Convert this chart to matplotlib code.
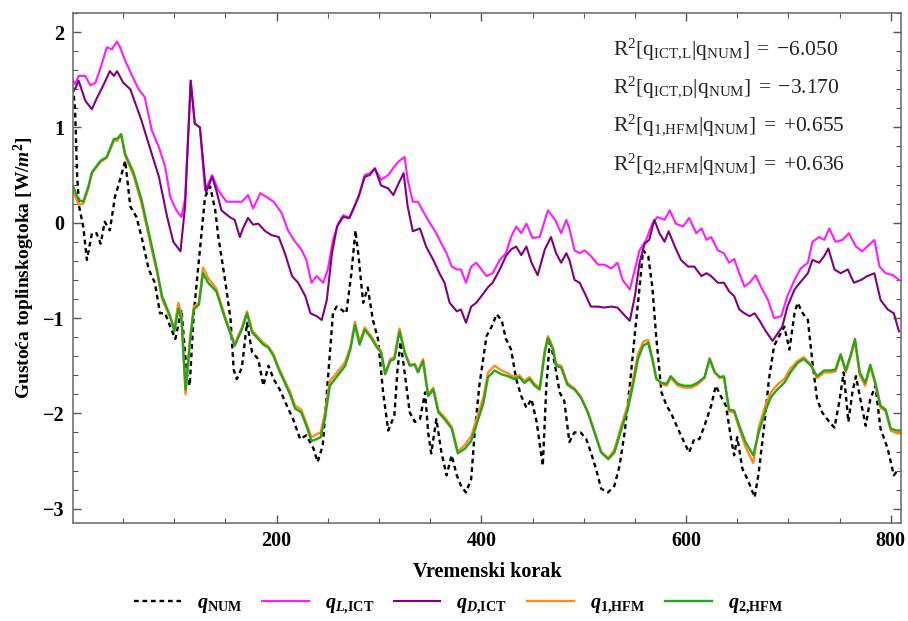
import matplotlib
matplotlib.use('Agg')
import matplotlib.pyplot as plt
from matplotlib.ticker import MultipleLocator, FixedLocator

plt.rcParams['font.family'] = ['Liberation Serif', 'DejaVu Serif']
plt.rcParams['mathtext.fontset'] = 'custom'
plt.rcParams['mathtext.rm'] = 'Liberation Serif'
plt.rcParams['mathtext.it'] = 'Liberation Serif:italic'
plt.rcParams['mathtext.bf'] = 'Liberation Serif:bold'
plt.rcParams['mathtext.bfit'] = 'Liberation Serif:italic:bold'
plt.rcParams['axes.unicode_minus'] = True

# (time step, heat flux) pairs
q_num = [(1, 1.42), (3, 1.20), (5, 0.50), (7, 0.17), (11, -0.04), (14.6, -0.39), (19.5, -0.11),
         (24, -0.11), (28, -0.22), (32, 0.01), (37, -0.08), (42, 0.27), (47, 0.45), (52, 0.65),
         (57, 0.17), (63, 0.06), (68, -0.15), (75, -0.49), (81, -0.63), (86, -0.95), (91, -0.95),
         (96, -1.09), (101, -1.22), (107, -0.91), (112, -1.57), (115, -1.71), (119, -0.95),
         (124, -0.39), (130, 0.27), (135, 0.38), (140, 0.13), (143, -0.15), (150, -0.63),
         (155, -1.02), (158, -1.54), (161, -1.64), (166, -1.52), (171, -1.05), (176, -1.36),
         (182, -1.43), (187, -1.71), (192, -1.50), (197, -1.64), (203, -1.75), (210, -1.92),
         (216, -2.06), (223, -2.27), (229, -2.23), (236, -2.37), (240, -2.51), (245, -2.34),
         (250, -1.64), (255, -0.95), (258.5, -0.88), (263, -0.91), (268, -0.95), (273, -0.53),
         (277, -0.08), (280, -0.35), (284.5, -0.84), (289, -0.68), (294, -1.02), (299, -1.22),
         (304, -1.78), (309, -2.18), (315, -2.02), (318, -1.55), (321, -1.25), (325, -1.57),
         (330, -1.99), (335, -2.09), (340, -2.06), (345, -1.78), (348, -2.20), (351, -2.42),
         (356, -2.06), (361, -2.41), (366, -2.65), (371, -2.44), (376, -2.65), (380.5, -2.77),
         (385, -2.83), (390, -2.69), (393.5, -2.20), (398, -1.71), (405, -1.19), (410, -1.09),
         (415, -0.96), (420, -1.03), (424, -1.22), (429, -1.33), (434, -1.64), (439, -1.82),
         (444, -1.94), (449, -1.85), (454, -2.09), (460, -2.55), (463.5, -1.71), (467, -1.22),
         (472, -1.50), (476.5, -1.78), (481, -1.87), (486, -2.30), (491, -2.20), (497, -2.20),
         (502.5, -2.27), (507, -2.41), (512, -2.58), (517, -2.79), (523.6, -2.83), (530, -2.76),
         (535, -2.55), (540, -2.20), (545, -1.71), (550, -1.16), (554, -0.74), (558, -0.29),
         (563, -0.35), (567, -0.67), (571, -1.22), (576, -1.78), (581, -1.92), (585, -1.99),
         (592, -2.16), (598, -2.30), (603, -2.41), (608, -2.27), (613, -2.27), (618, -2.13),
         (624.5, -1.92), (629, -1.71), (634, -1.82), (639, -1.92), (644, -2.27), (647, -2.44),
         (650, -2.25), (655, -2.58), (660, -2.69), (667, -2.88), (671, -2.62), (676, -2.16),
         (681, -1.64), (686, -1.29), (691, -1.19), (696, -1.09), (701, -1.33), (706, -0.95),
         (709, -0.84), (714, -0.95), (719, -1.02), (723.5, -1.47), (728, -1.85), (733, -1.99),
         (740, -2.09), (745, -2.15), (749.5, -1.89), (754, -1.57), (758.6, -2.09), (762.5, -1.78),
         (766, -1.61), (771, -1.89), (775.5, -2.13), (780, -1.85), (785, -1.71), (790, -2.16),
         (797, -2.37), (803, -2.65), (808, -2.58)]

q_l_ict = [(1, 1.49), (3, 1.455), (6.5, 1.54), (13, 1.54), (18, 1.44), (23, 1.47), (29, 1.66),
           (34, 1.84), (39, 1.82), (44, 1.90), (47, 1.84), (52, 1.70), (58, 1.56), (65, 1.40),
           (71, 1.32), (78, 0.97), (85, 0.79), (91, 0.59), (96, 0.27), (102, 0.13), (107, 0.06),
           (110.5, 0.25), (116, 1.49), (120, 1.04), (125, 1.00), (130, 0.34), (137, 0.50),
           (143, 0.34), (151, 0.22), (159, 0.22), (166, 0.22), (172, 0.29), (177, 0.15),
           (184, 0.31), (190, 0.27), (197, 0.22), (205, 0.10), (211, -0.08), (218, -0.20),
           (224, -0.28), (229, -0.39), (234, -0.63), (239, -0.56), (245.5, -0.63), (250, -0.49),
           (255, -0.18), (260, -0.01), (265, 0.08), (271, 0.05), (276, 0.17), (281, 0.31),
           (286, 0.50), (291, 0.52), (296, 0.57), (302, 0.45), (309, 0.50), (315, 0.59),
           (320, 0.65), (325, 0.69), (328, 0.45), (333, 0.22), (338, 0.22), (343, 0.12),
           (350, -0.01), (356, -0.11), (361, -0.22), (366, -0.32), (371, -0.46), (376, -0.49),
           (380, -0.49), (385, -0.63), (390, -0.46), (395, -0.42), (400, -0.49), (405, -0.56),
           (411, -0.53), (418, -0.39), (424, -0.32), (429, -0.15), (434, -0.04), (439, -0.11),
           (444, -0.01), (450, -0.16), (457, -0.15), (465, 0.13), (472, 0.03), (478, -0.11),
           (483, 0.03), (486, -0.06), (491, -0.29), (496, -0.32), (501, -0.29), (507, -0.35),
           (514, -0.44), (520, -0.44), (527, -0.48), (533, -0.42), (538, -0.60), (545, -0.70),
           (550, -0.49), (554.5, -0.29), (561, -0.18), (567, -0.01), (572, 0.06), (579, 0.03),
           (584, 0.13), (590, -0.01), (597, -0.04), (603, 0.05), (610, -0.11), (615, -0.06),
           (620, -0.18), (624.5, -0.15), (631, -0.29), (637, -0.32), (642, -0.42), (647, -0.38),
           (652, -0.53), (657, -0.67), (662, -0.63), (668, -0.55), (673, -0.67), (680, -0.81),
           (686, -1.00), (693, -0.98), (699, -0.77), (706, -0.60), (712, -0.48), (719, -0.42),
           (723.5, -0.20), (730, -0.15), (735, -0.18), (740, -0.06), (746, -0.20), (753, -0.18),
           (759, -0.11), (766, -0.25), (772, -0.30), (779, -0.23), (784, -0.18), (789, -0.46),
           (795, -0.53), (802, -0.55), (808, -0.60)]

q_d_ict = [(1, 1.40), (3, 1.40), (6.5, 1.49), (13, 1.28), (19.5, 1.19), (24, 1.30), (31, 1.45),
           (37, 1.59), (41, 1.54), (44, 1.59), (50, 1.47), (57, 1.40), (62, 1.25), (68, 1.07),
           (76, 0.79), (85, 0.48), (93, 0.06), (99, -0.20), (106, -0.30), (110.5, 0.17),
           (116, 1.49), (120, 1.04), (125, 1.00), (131, 0.32), (137, 0.48), (141, 0.34),
           (146, 0.13), (154, 0.06), (159, 0.03), (164, -0.15), (167, -0.06), (172, 0.05),
           (177, -0.02), (182, -0.01), (189, -0.09), (195, -0.13), (202, -0.15), (208, -0.32),
           (215, -0.56), (221, -0.63), (228, -0.77), (233, -0.95), (239, -0.98), (244, -1.02),
           (249, -0.81), (254, -0.32), (259, -0.04), (265, 0.06), (271, 0.05), (280, 0.27),
           (286, 0.48), (291, 0.50), (296, 0.57), (302, 0.39), (309, 0.36), (314, 0.29),
           (319, 0.41), (324, 0.52), (328, 0.17), (333, -0.09), (340, -0.06), (346, -0.25),
           (353, -0.39), (359, -0.53), (364, -0.63), (369, -0.84), (376, -0.93), (380, -0.91),
           (385, -1.05), (390, -0.88), (395, -0.84), (400, -0.77), (407, -0.67), (411, -0.63),
           (418, -0.49), (424, -0.35), (429, -0.28), (434, -0.25), (439, -0.34), (444, -0.25),
           (449, -0.42), (455, -0.55), (462, -0.28), (468, -0.15), (473, -0.32), (478, -0.42),
           (483, -0.32), (486, -0.39), (491, -0.60), (496, -0.63), (501, -0.74), (507, -0.88),
           (514, -0.88), (520, -0.89), (527, -0.88), (533, -0.89), (538, -0.95), (545, -1.03),
           (550, -0.77), (554.5, -0.42), (559.5, -0.22), (564, -0.18), (569, 0.03), (574, -0.11),
           (579, -0.20), (583, -0.09), (589, -0.25), (595, -0.39), (602, -0.46), (608, -0.46),
           (615, -0.56), (620, -0.53), (624.5, -0.56), (631, -0.63), (637, -0.63), (642, -0.72),
           (647, -0.77), (652, -0.91), (657, -0.95), (662, -0.98), (667, -0.95), (672, -1.03),
           (678, -1.14), (684.5, -1.24), (689, -1.17), (694, -1.09), (699, -0.88), (706, -0.70),
           (712, -0.62), (719, -0.53), (723.5, -0.39), (730, -0.42), (735, -0.35), (739, -0.27),
           (745, -0.49), (751, -0.53), (758, -0.49), (764, -0.63), (771, -0.60), (777, -0.56),
           (784, -0.53), (790, -0.81), (797, -0.91), (803, -0.95), (808, -1.14)]

q1_hfm = [(1, 0.33), (2, 0.31), (6.5, 0.19), (11, 0.20), (16, 0.36), (19.5, 0.52), (28, 0.64),
          (34, 0.68), (41, 0.86), (44, 0.86), (48, 0.92), (52, 0.70), (60, 0.50), (68, 0.20),
          (76, -0.19), (83, -0.52), (88, -0.80), (96, -1.00), (100, -1.10), (104, -0.84),
          (107, -0.98), (111, -1.80), (115.5, -1.20), (119, -0.88), (124, -0.84), (128, -0.47),
          (133, -0.58), (141, -0.69), (150, -1.00), (159, -1.27), (166, -1.10), (171, -0.93),
          (176, -1.13), (182, -1.20), (187, -1.26), (192, -1.30), (197, -1.38), (202, -1.52),
          (208, -1.66), (213, -1.77), (218, -1.92), (224, -1.96), (229, -2.10), (234, -2.25),
          (239, -2.22), (243, -2.20), (247, -2.00), (252, -1.66), (257, -1.60), (262, -1.53),
          (267, -1.46), (272, -1.30), (276.5, -1.04), (281, -1.25), (286, -1.10), (293, -1.20),
          (298, -1.29), (302, -1.35), (306, -1.58), (311, -1.43), (315, -1.41), (320, -1.11),
          (325, -1.35), (330, -1.49), (335, -1.48), (338, -1.56), (343, -1.43), (348, -1.80),
          (353, -1.73), (358, -1.97), (364, -2.04), (371, -2.14), (377, -2.40), (384, -2.33),
          (390, -2.24), (397, -2.00), (402, -1.83), (406.5, -1.57), (413, -1.50), (419.5, -1.55),
          (426, -1.58), (432, -1.62), (437, -1.60), (442, -1.66), (447, -1.62), (452, -1.69),
          (457, -1.73), (462, -1.33), (465, -1.19), (470, -1.31), (473, -1.48), (478, -1.50),
          (484, -1.68), (491, -1.74), (497, -1.82), (504, -1.98), (510.5, -2.19), (517, -2.40),
          (524, -2.47), (530, -2.38), (537, -2.12), (543, -1.91), (548, -1.65), (553, -1.38),
          (558, -1.25), (563, -1.23), (567, -1.42), (571, -1.63), (576, -1.69), (581, -1.71),
          (585, -1.63), (592, -1.71), (598, -1.73), (605, -1.73), (611, -1.70), (618, -1.63),
          (623, -1.42), (628, -1.57), (633, -1.63), (637, -1.62), (642, -1.98), (647, -1.99),
          (652, -2.16), (658, -2.35), (665.6, -2.52), (671, -2.15), (678, -1.90), (683, -1.78),
          (689, -1.70), (696, -1.64), (702, -1.53), (709, -1.45), (715, -1.41), (722, -1.49),
          (728, -1.63), (735, -1.57), (741, -1.57), (746, -1.56), (751, -1.39), (756, -1.57),
          (761, -1.40), (765, -1.24), (769.7, -1.60), (775, -1.71), (780, -1.51), (785, -1.70),
          (790, -1.94), (795, -1.98), (800, -2.18), (806, -2.21), (810, -2.21)]

q2_hfm = [(1, 0.38), (2, 0.36), (6.5, 0.24), (11, 0.22), (16, 0.38), (19.5, 0.53), (28, 0.65),
          (34, 0.69), (41, 0.88), (44, 0.88), (48, 0.93), (52, 0.72), (60, 0.53), (68, 0.24),
          (76, -0.15), (83, -0.49), (88, -0.77), (96, -0.98), (100, -1.14), (104, -0.90),
          (107, -1.02), (111, -1.75), (115.5, -1.22), (119, -0.91), (124, -0.86), (128, -0.53),
          (133, -0.63), (141, -0.72), (150, -1.02), (159, -1.29), (166, -1.12), (171, -0.95),
          (176, -1.15), (182, -1.22), (187, -1.28), (192, -1.31), (197, -1.40), (202, -1.54),
          (208, -1.68), (213, -1.80), (218, -1.95), (224, -1.99), (229, -2.13), (234, -2.29),
          (239, -2.27), (243, -2.25), (247, -2.06), (252, -1.71), (257, -1.64), (262, -1.57),
          (267, -1.50), (272, -1.33), (276.5, -1.07), (281, -1.28), (286, -1.12), (293, -1.22),
          (298, -1.31), (302, -1.36), (306, -1.59), (311, -1.45), (315, -1.43), (320, -1.14),
          (325, -1.36), (330, -1.50), (335, -1.49), (338, -1.57), (343, -1.45), (348, -1.82),
          (353, -1.75), (358, -1.99), (364, -2.06), (371, -2.16), (377, -2.42), (384, -2.37),
          (390, -2.29), (397, -2.06), (402, -1.89), (406.5, -1.62), (413, -1.55), (419.5, -1.59),
          (426, -1.61), (432, -1.64), (437, -1.62), (442, -1.68), (447, -1.64), (452, -1.71),
          (457, -1.75), (462, -1.36), (465, -1.21), (470, -1.33), (473, -1.50), (478, -1.52),
          (484, -1.70), (491, -1.75), (497, -1.83), (504, -1.99), (510.5, -2.20), (517, -2.41),
          (524, -2.48), (530, -2.41), (537, -2.16), (543, -1.96), (548, -1.71), (553, -1.43),
          (558, -1.29), (563, -1.26), (567, -1.43), (571, -1.64), (576, -1.68), (581, -1.69),
          (585, -1.61), (592, -1.69), (598, -1.71), (605, -1.71), (611, -1.68), (618, -1.62),
          (623, -1.43), (628, -1.57), (633, -1.62), (637, -1.61), (642, -1.96), (647, -1.97),
          (652, -2.13), (658, -2.30), (665.6, -2.44), (671, -2.20), (678, -1.96), (683, -1.83),
          (689, -1.75), (696, -1.68), (702, -1.57), (709, -1.47), (715, -1.43), (722, -1.50),
          (728, -1.61), (735, -1.55), (741, -1.55), (746, -1.54), (751, -1.38), (756, -1.55),
          (761, -1.38), (765, -1.22), (769.7, -1.57), (775, -1.68), (780, -1.49), (785, -1.68),
          (790, -1.92), (795, -1.96), (800, -2.16), (806, -2.18), (810, -2.18)]

r2_labels = [r'$\mathrm{R}^2[\mathrm{q}_{\mathrm{ICT{,}L}}|\mathrm{q}_{\mathrm{NUM}}]\;=\;{-}6.050$',
             r'$\mathrm{R}^2[\mathrm{q}_{\mathrm{ICT{,}D}}|\mathrm{q}_{\mathrm{NUM}}]\;=\;{-}3.170$',
             r'$\mathrm{R}^2[\mathrm{q}_{\mathrm{1{,}HFM}}|\mathrm{q}_{\mathrm{NUM}}]\;=\;{+}0.655$',
             r'$\mathrm{R}^2[\mathrm{q}_{\mathrm{2{,}HFM}}|\mathrm{q}_{\mathrm{NUM}}]\;=\;{+}0.636$']

legend_labels = [r'$\mathbfit{q}_{\mathbf{NUM}}$',
                 r'$\mathbfit{q}_{\mathbfit{L}\mathbf{{,}ICT}}$',
                 r'$\mathbfit{q}_{\mathbfit{D}\mathbf{{,}ICT}}$',
                 r'$\mathbfit{q}_{\mathbf{1{,}HFM}}$',
                 r'$\mathbfit{q}_{\mathbf{2{,}HFM}}$']


def xy(points):
    return [p[0] for p in points], [p[1] for p in points]


fig = plt.figure(figsize=(9.08, 6.21), dpi=100)
ax = fig.add_axes([73 / 908, 98 / 621, 828 / 908, 510 / 621])

# draw in the same order as the legend, green ends on top
ax.plot(*xy(q_num), color='black', lw=1.7, ls=(0, (2.0, 1.6)), label=legend_labels[0])
ax.plot(*xy(q_l_ict), color='#ff1aff', lw=1.5, label=legend_labels[1])
ax.plot(*xy(q_d_ict), color='#800080', lw=1.5, label=legend_labels[2])
ax.plot(*xy(q1_hfm), color='#ff8c1a', lw=1.7, label=legend_labels[3])
ax.plot(*xy(q2_hfm), color='#2aa41c', lw=1.7, label=legend_labels[4])

ax.set_xlim(1, 810)
ax.set_ylim(-3.15, 2.2)

ax.xaxis.set_major_locator(FixedLocator([200, 400, 600, 800]))
ax.xaxis.set_minor_locator(MultipleLocator(50))
ax.yaxis.set_major_locator(MultipleLocator(1))
ax.yaxis.set_minor_locator(MultipleLocator(0.2))
ax.tick_params(which='both', direction='in', top=True, right=True, color='#555555')
ax.tick_params(which='major', length=6, width=1, labelsize=14.5, pad=6)
ax.tick_params(which='minor', length=3.5, width=0.8)
for lab in ax.get_xticklabels() + ax.get_yticklabels():
    lab.set_fontweight('bold')
for sp in ax.spines.values():
    sp.set_color('#666666')
    sp.set_linewidth(1.1)

ax.set_xlabel('Vremenski korak', fontsize=14.5, fontweight='bold', labelpad=8)
ax.set_ylabel(r'Gustoća toplinskogtoka [W/$\mathbfit{m}^{\mathbf{2}}$]',
              fontsize=14, fontweight='bold', labelpad=4)

# R^2 scores in the upper right corner
for i, txt in enumerate(r2_labels):
    fig.text(613 / 908, 1 - (49 + 38.3 * i) / 621, txt, fontsize=15.5,
             ha='left', va='center', color='#222222')

fig.legend(loc='center', bbox_to_anchor=(0.505, 1 - 605 / 621), ncol=5, frameon=False,
           fontsize=14.5, handlelength=2.3, columnspacing=1.0, handletextpad=0.8)

fig.savefig('out.png', dpi=100)
